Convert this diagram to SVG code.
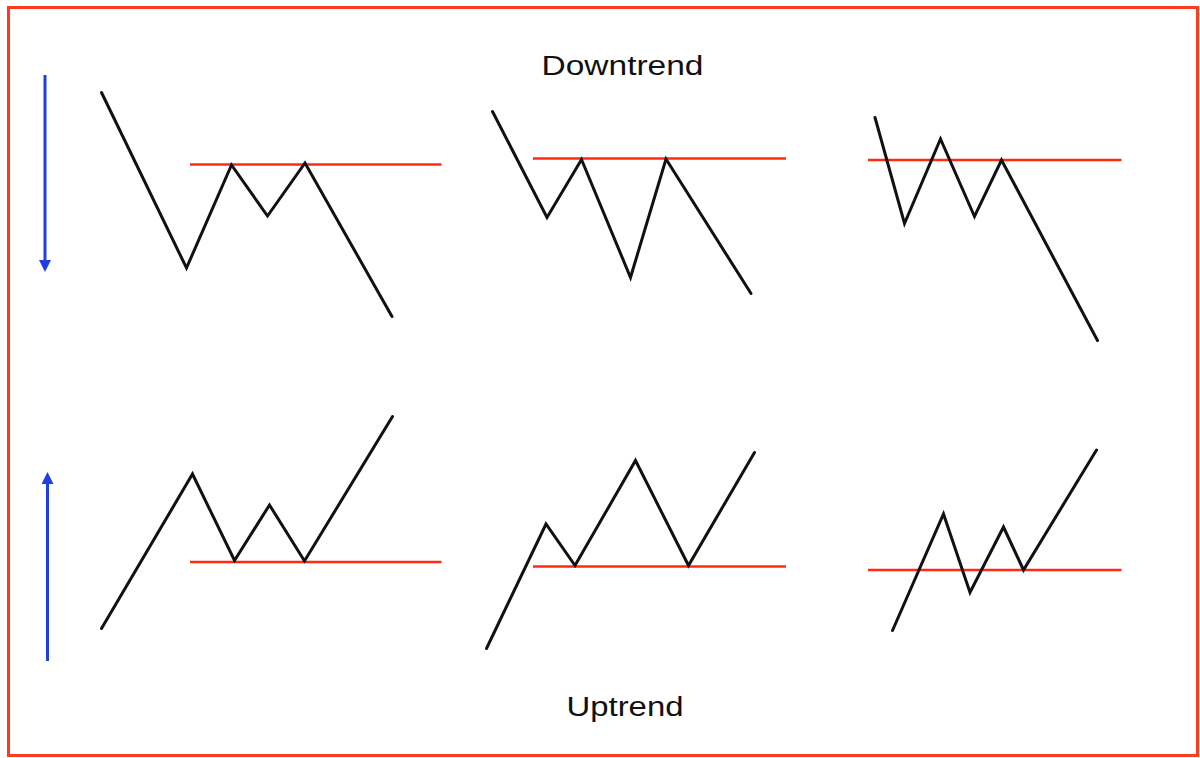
<svg xmlns="http://www.w3.org/2000/svg" width="1200" height="758" viewBox="0 0 1200 758">
<style>
.price{fill:none;stroke:#111;stroke-width:3;stroke-linejoin:miter;stroke-linecap:round}
.level{fill:none;stroke:#ff2a10;stroke-width:2.5}
.trend{fill:none;stroke:#1f3fe0;stroke-width:3}
.lbl{font-family:"Liberation Sans",Arial,sans-serif;font-size:27px;fill:#111}
</style>
<defs>
<marker id="ah" viewBox="0 0 10 10" refX="5" refY="5" markerWidth="4" markerHeight="4" markerUnits="strokeWidth" orient="auto">
<path d="M0,0 L10,5 L0,10 Z" fill="#1f3fe0"/>
</marker>
</defs>
<rect width="1200" height="758" fill="#fff"/>
<rect x="8.5" y="7.5" width="1189" height="748" fill="none" stroke="#ff3b1f" stroke-width="3"/>
<g id="labels">
<text class="lbl" x="541.5" y="75" textLength="162" lengthAdjust="spacingAndGlyphs">Downtrend</text>
<text class="lbl" x="566.5" y="716" textLength="117" lengthAdjust="spacingAndGlyphs">Uptrend</text>
</g>
<g id="trend-arrows">
<line class="trend" x1="45" y1="75" x2="45" y2="266" marker-end="url(#ah)"/>
<line class="trend" x1="47.5" y1="661" x2="47.5" y2="478" marker-end="url(#ah)"/>
</g>
<g id="down-1">
<line class="level" x1="190" y1="164.5" x2="441.5" y2="164.5"/>
<polyline class="price" points="101.5,92.5 186.5,268 231.5,165 267.5,216 305,163 392,316.5"/>
</g>
<g id="down-2">
<line class="level" x1="533" y1="158.5" x2="786" y2="158.5"/>
<polyline class="price" points="492.5,111.5 547,217.5 581.5,159.5 630.5,277.5 666,159 751,293.5"/>
</g>
<g id="down-3">
<line class="level" x1="868" y1="160" x2="1121.5" y2="160"/>
<polyline class="price" points="875,117.5 904.5,223.5 940.5,139 974.5,216.5 1001.5,160 1097.5,340.5"/>
</g>
<g id="up-1">
<line class="level" x1="190" y1="562" x2="441.5" y2="562"/>
<polyline class="price" points="101.5,628.5 192.5,474 234.5,560.5 269.5,505 304.5,561 392.5,416.5"/>
</g>
<g id="up-2">
<line class="level" x1="533" y1="566.5" x2="786" y2="566.5"/>
<polyline class="price" points="486.5,648.5 546,524 575,565.5 635.5,460.5 688.5,565.5 754.5,452.5"/>
</g>
<g id="up-3">
<line class="level" x1="868" y1="570" x2="1121.5" y2="570"/>
<polyline class="price" points="892.5,630.5 943.5,514 970,592.5 1003.5,527 1023.5,570 1096.5,450"/>
</g>
</svg>
